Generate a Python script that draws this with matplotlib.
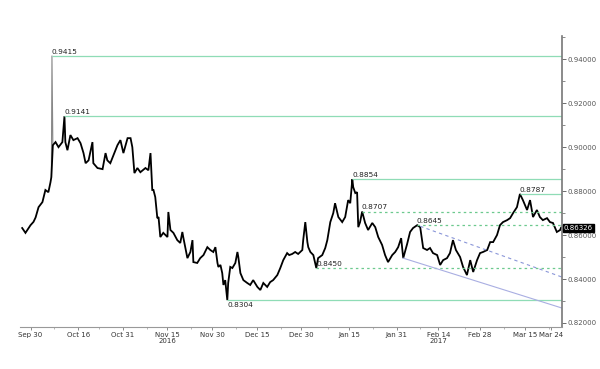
import numpy as np
import pandas as pd
import matplotlib
matplotlib.use('Agg')
import matplotlib.pyplot as plt
import matplotlib.dates as mdates
from matplotlib.ticker import MultipleLocator, FormatStrFormatter

## data: days after 2016-09-30 and EUR/GBP price
start = pd.Timestamp('2016-09-30')
days = [-2.8, -1.7, 0.0, 1.0, 1.7, 2.7, 4.0, 5.0, 6.0, 6.7, 7.0, 7.2, 7.5, 8.4, 9.4, 10.7, 11.4,
        11.7, 12.4, 13.4, 14.4, 15.8, 16.8, 17.8, 18.5, 19.5, 20.8, 21.1, 22.5, 24.2, 25.2, 25.8,
        26.8, 27.9, 29.2, 30.2, 31.2, 32.6, 33.6, 34.2, 34.9, 35.9, 36.9, 38.6, 39.6, 40.3, 40.9,
        41.3, 41.9, 42.6, 43.0, 43.6, 44.6, 46.0, 46.3, 47.0, 48.0, 49.3, 50.3, 51.0, 51.3, 52.7,
        53.7, 54.4, 54.7, 56.0, 57.0, 58.1, 59.4, 60.4, 61.4, 62.1, 62.8, 63.1, 63.8, 64.4, 64.8,
        65.4, 66.1, 66.4, 67.1, 67.8, 68.8, 69.5, 69.8, 70.5, 71.5, 72.8, 73.8, 74.8, 76.2, 77.2,
        78.2, 79.5, 80.5, 81.5, 82.9, 83.9, 84.9, 86.2, 86.9, 87.9, 88.9, 89.9, 91.3, 91.6, 92.3,
        93.0, 93.3, 94.0, 95.0, 96.0, 96.6, 98.0, 99.0, 99.7, 100.7, 101.7, 102.3, 103.4, 104.7,
        105.7, 106.4, 106.7, 107.4, 108.1, 108.4, 109.1, 109.7, 110.1, 110.7, 111.4, 112.4, 113.4,
        114.8, 115.8, 116.8, 118.1, 119.1, 120.1, 121.5, 122.5, 123.5, 124.5, 125.2, 126.5, 127.5,
        128.5, 129.9, 130.9, 131.9, 133.2, 134.2, 135.2, 136.6, 137.6, 138.6, 139.9, 140.9, 141.9,
        142.9, 144.3, 145.3, 146.6, 147.7, 148.7, 150.0, 151.0, 152.0, 153.4, 154.4, 155.4, 156.7,
        157.7, 158.7, 160.1, 161.1, 162.1, 163.4, 164.4, 165.4, 166.8, 167.8, 168.8, 170.1, 171.1,
        172.1, 173.5, 174.5, 175.5, 176.8, 177.9, 178.2]
price = [0.8632, 0.8610, 0.8645, 0.8660, 0.8680, 0.8727, 0.8750, 0.8805, 0.8795, 0.8840, 0.8864,
         0.9415, 0.9009, 0.9023, 0.9000, 0.9023, 0.9141, 0.9023, 0.8986, 0.9055, 0.9032, 0.9041,
         0.9018, 0.8973, 0.8927, 0.8940, 0.9023, 0.8927, 0.8905, 0.8900, 0.8973, 0.8940, 0.8927,
         0.8964, 0.9009, 0.9032, 0.8973, 0.9041, 0.9041, 0.9000, 0.8882, 0.8905, 0.8886, 0.8905,
         0.8895, 0.8973, 0.8805, 0.8805, 0.8773, 0.8677, 0.8682, 0.8591, 0.8610, 0.8591, 0.8705,
         0.8623, 0.8610, 0.8577, 0.8564, 0.8614, 0.8591, 0.8495, 0.8523, 0.8577, 0.8477, 0.8473,
         0.8495, 0.8509, 0.8545, 0.8532, 0.8523, 0.8545, 0.8473, 0.8455, 0.8464, 0.8427, 0.8373,
         0.8395, 0.8304, 0.8382, 0.8455, 0.8450, 0.8473, 0.8523, 0.8500, 0.8427, 0.8395, 0.8382,
         0.8373, 0.8395, 0.8364, 0.8350, 0.8382, 0.8364, 0.8386, 0.8395, 0.8418, 0.8450, 0.8486,
         0.8518, 0.8509, 0.8514, 0.8523, 0.8514, 0.8532, 0.8577, 0.8659, 0.8568, 0.8545, 0.8523,
         0.8509, 0.8450, 0.8495, 0.8509, 0.8541, 0.8577, 0.8659, 0.8700, 0.8745, 0.8682, 0.8659,
         0.8682, 0.8736, 0.8759, 0.8745, 0.8854, 0.8818, 0.8791, 0.8795, 0.8636, 0.8659, 0.8707,
         0.8655, 0.8623, 0.8655, 0.8636, 0.8591, 0.8555, 0.8509, 0.8477, 0.8509, 0.8523, 0.8545,
         0.8586, 0.8495, 0.8559, 0.8614, 0.8632, 0.8645, 0.8636, 0.8541, 0.8532, 0.8541, 0.8518,
         0.8509, 0.8464, 0.8486, 0.8495, 0.8518, 0.8577, 0.8532, 0.8500, 0.8455, 0.8418, 0.8486,
         0.8432, 0.8486, 0.8518, 0.8523, 0.8532, 0.8568, 0.8568, 0.8600, 0.8645, 0.8659, 0.8668,
         0.8677, 0.8700, 0.8727, 0.8787, 0.8759, 0.8714, 0.8759, 0.8682, 0.8714, 0.8682, 0.8668,
         0.8677, 0.8659, 0.8655, 0.8614, 0.8623, 0.8633]
last_price = 0.86326
spike_idx = 11  # flash crash tick, drawn thin like in the original

# support / resistance levels: value, start day, style, label above?
level_values = [0.9415, 0.9141, 0.8854, 0.8787, 0.8707, 0.8645, 0.8450, 0.8304]
level_days = [7.2, 11.4, 108.1, 164.4, 111.2, 129.7, 96.0, 66.1]
level_dashed = [False, False, False, False, True, True, True, False]
level_above = [True, True, True, True, True, True, True, False]

# trend lines: (start day, start price) -> (end day, end price)
trend_dash = [(130.9, 0.8640), (178.5, 0.8409)]
trend_solid = [(125.2, 0.8495), (178.5, 0.8268)]

tick_days = ['2016-09-30', '2016-10-16', '2016-10-31', '2016-11-15', '2016-11-30', '2016-12-15',
             '2016-12-30', '2017-01-15', '2017-01-31', '2017-02-14', '2017-02-28', '2017-03-15',
             '2017-03-24']
tick_labels = ['Sep 30', 'Oct 16', 'Oct 31', 'Nov 15\n2016', 'Nov 30', 'Dec 15', 'Dec 30',
               'Jan 15', 'Jan 31', 'Feb 14\n2017', 'Feb 28', 'Mar 15', 'Mar 24']

def to_date(d):
    return start + pd.to_timedelta(d, unit='D')

dates = to_date(np.array(days))
price = np.array(price)
x_left = to_date(-3.4)
x_right = to_date(178.6)

## plot
fig = plt.figure(figsize=(6, 3.69), dpi=100)
ax = fig.add_axes([0.034, 0.114, 0.903, 0.788])

main = np.ones(len(price), dtype=bool)
main[spike_idx] = False
ax.plot(dates[spike_idx - 1:spike_idx + 2], price[spike_idx - 1:spike_idx + 2],
        color='#888888', lw=0.8)
ax.plot(dates[main], price[main], color='black', lw=1.3, solid_joinstyle='miter')

green = '#8fdcb6'
for v, d, dashed, above in zip(level_values, level_days, level_dashed, level_above):
    if dashed:
        ax.hlines(v, to_date(d), x_right, colors='#6cc98e', lw=0.9, linestyles=(0, (2, 2.5)))
    else:
        ax.hlines(v, to_date(d), x_right, colors=green, lw=0.9)
    ax.text(to_date(d), v + (0.0006 if above else -0.0008), '%.4f' % v, fontsize=5.3,
            va='bottom' if above else 'top', ha='left', color='#222222')

ax.plot([to_date(trend_dash[0][0]), to_date(trend_dash[1][0])],
        [trend_dash[0][1], trend_dash[1][1]], color='#8a96d8', lw=0.8, ls=(0, (3, 3)))
ax.plot([to_date(trend_solid[0][0]), to_date(trend_solid[1][0])],
        [trend_solid[0][1], trend_solid[1][1]], color='#a9aee2', lw=0.8)

ax.set_xlim(x_left, x_right)
ax.set_ylim(0.8182, 0.9505)

for s in ['top', 'left']:
    ax.spines[s].set_visible(False)
ax.spines['right'].set_color('#777777')
ax.spines['right'].set_linewidth(1.2)
ax.spines['bottom'].set_color('#999999')
ax.spines['bottom'].set_linewidth(0.8)

ax.yaxis.tick_right()
ax.yaxis.set_major_locator(MultipleLocator(0.02))
ax.yaxis.set_minor_locator(MultipleLocator(0.01))
ax.yaxis.set_major_formatter(FormatStrFormatter('%.5f'))
ax.tick_params(axis='y', which='major', length=3, width=0.6, colors='#555555', labelsize=5, pad=1)
ax.tick_params(axis='y', which='minor', length=2, width=0.6, colors='#777777')

ax.set_xticks(pd.to_datetime(tick_days))
ax.set_xticklabels(tick_labels)
ax.xaxis.set_minor_locator(mdates.DayLocator(bymonthday=[8, 23]))
ax.tick_params(axis='x', which='major', length=2, width=0.6, colors='#777777', labelsize=5,
               labelcolor='#333333', pad=2)
ax.tick_params(axis='x', which='minor', length=1.5, width=0.5, colors='#999999')
for lab in ax.get_xticklabels():
    lab.set_linespacing(1.0)

ax.text(1.003, last_price, '%.5f' % last_price, transform=ax.get_yaxis_transform(), fontsize=5,
        color='white', va='center', ha='left',
        bbox=dict(boxstyle='square,pad=0.15', fc='black', ec='black'))

fig.savefig('out.png', dpi=100)
